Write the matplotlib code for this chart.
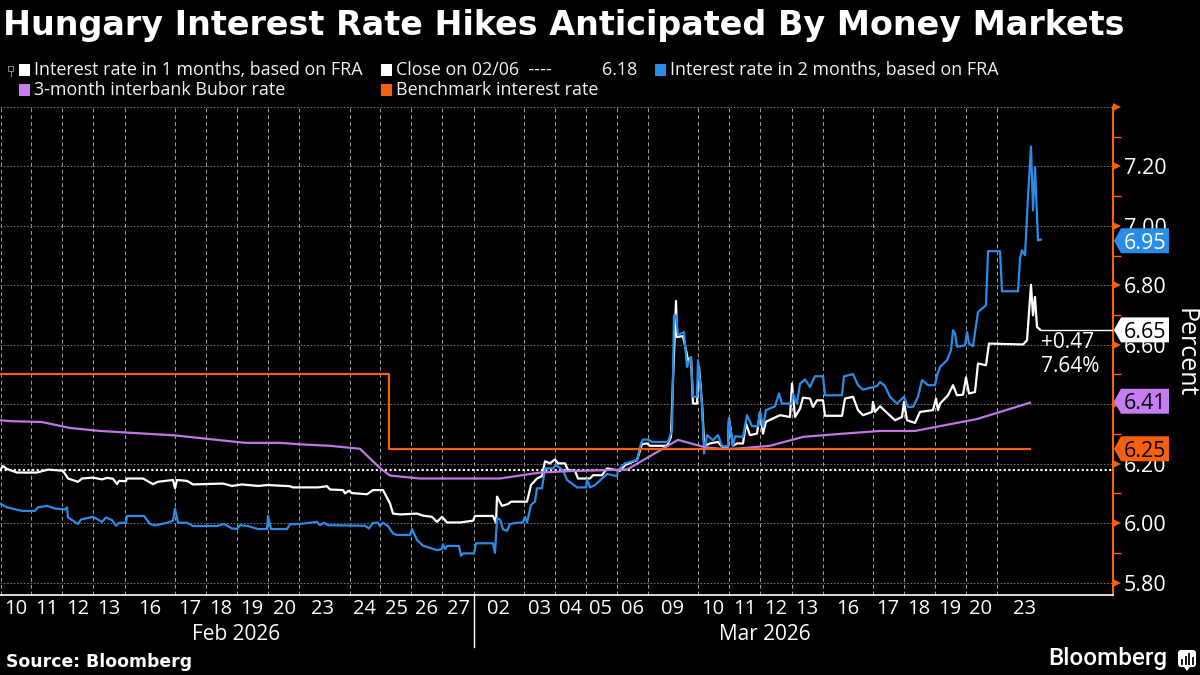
"""Hungary FRA / Bubor chart, Bloomberg dark style."""
import matplotlib

matplotlib.use("Agg")
import matplotlib.pyplot as plt
from matplotlib.patches import FancyBboxPatch, Polygon, Rectangle

# x values are positions along the session axis (weekends squeezed), 0..1113 wide
day_edges = [1, 31, 62, 93, 125, 175, 206, 237, 268, 299, 350, 380, 411, 442, 474, 524, 555,
             586, 617, 648, 698, 729, 760, 792, 823, 873, 904, 935, 966, 997]
day_labels = ["10", "11", "12", "13", "16", "17", "18", "19", "20", "23", "24", "25", "26", "27",
              "02", "03", "04", "05", "06", "09", "10", "11", "12", "13", "16", "17", "18", "19",
              "20", "23"]
day_label_pos = [16, 47, 78, 109, 150, 190, 221, 252, 284, 323, 365, 396, 427, 458, 499, 540, 570,
                 601, 632, 673, 713, 745, 776, 807, 848, 888, 919, 950, 981, 1025]

fra1m_x = [0, 3, 7, 17, 37, 48, 63, 68, 78, 82, 93, 102, 107, 113, 117, 119, 126, 127, 143, 153,
           158, 173, 175, 177, 187, 193, 223, 232, 242, 258, 268, 290, 293,
           300, 318, 327, 330, 343, 345, 349, 352, 367, 373, 383, 390, 393, 400, 417, 423, 432,
           437, 442, 447, 460, 473, 475, 493, 496, 497, 502, 508, 511, 527, 531, 537, 542, 545,
           550, 555, 558, 565, 568, 575, 578, 590, 593, 602, 607, 620,
           625, 637, 642, 647, 650, 667, 671, 673, 676, 677, 683, 686, 688, 691, 693, 697, 699,
           702, 704, 706, 710, 718, 722, 728, 729, 733, 737, 743, 746, 750, 757, 760, 763, 766,
           773, 780, 790, 792, 795, 800, 803, 810, 813, 817, 823, 825, 842, 845, 853, 858, 863,
           872, 873, 875,
           880, 887, 895, 902, 904, 907, 915, 920, 933, 936, 938, 940, 948, 953, 957, 963, 966,
           969, 975, 978, 986, 989, 1023, 1027, 1031, 1033, 1035, 1037, 1040]
fra1m = [6.178, 6.192, 6.182, 6.170, 6.170, 6.180, 6.176, 6.150, 6.139, 6.150, 6.153, 6.147, 6.152,
         6.149, 6.131, 6.142, 6.141, 6.150, 6.150, 6.131, 6.139, 6.145, 6.117, 6.145, 6.142, 6.130,
         6.133, 6.125, 6.130, 6.125, 6.128, 6.124, 6.120,
         6.120, 6.120, 6.124, 6.113, 6.111, 6.100, 6.109, 6.101, 6.097, 6.111, 6.111, 6.066, 6.032,
         6.029, 6.032, 6.025, 6.021, 6.004, 6.021, 6.002, 6.002, 6.008, 6.024, 6.024, 6.001, 6.089,
         6.058, 6.064, 6.072, 6.072, 6.128, 6.150, 6.158, 6.208, 6.201, 6.214, 6.201, 6.201, 6.178,
         6.176, 6.150, 6.150, 6.161, 6.161, 6.184, 6.176,
         6.195, 6.212, 6.266, 6.268, 6.260, 6.260, 6.290, 6.481, 6.747, 6.626, 6.629, 6.582, 6.548,
         6.557, 6.402, 6.402, 6.525, 6.402, 6.279, 6.262, 6.268, 6.273, 6.257, 6.257, 6.352, 6.260,
         6.268, 6.268, 6.335, 6.296, 6.301, 6.374, 6.301, 6.341, 6.352, 6.363, 6.357, 6.469, 6.357,
         6.385, 6.422, 6.419, 6.391, 6.413, 6.413, 6.361, 6.361, 6.419, 6.425, 6.380, 6.363, 6.374,
         6.408, 6.374,
         6.393, 6.371, 6.346, 6.357, 6.408, 6.346, 6.337, 6.374, 6.380, 6.419, 6.380, 6.402, 6.430,
         6.464, 6.430, 6.432, 6.490, 6.436, 6.441, 6.537, 6.531, 6.604, 6.601, 6.615, 6.802, 6.699,
         6.761, 6.660, 6.651]

fra2m_x = [0, 7, 22, 35, 38, 47, 55, 65, 67, 68, 78, 81, 93, 102, 106, 112, 116, 119, 126, 127,
           144, 150, 155, 167, 173, 175, 178, 187, 193, 217, 224, 232, 237, 240, 248, 258, 267,
           268, 271, 287, 290, 300,
           317, 320, 324, 328, 365, 369, 373, 378, 380, 383, 388, 393, 397, 410, 412, 417, 423,
           437, 442, 443, 445, 447, 459, 461, 463, 474, 476, 493, 495, 497, 500, 503, 507, 510,
           517, 523, 525, 527, 531, 535, 537, 542, 545, 553, 556, 563, 567, 577, 586, 587, 590,
           595, 602, 607, 617,
           618, 625, 637, 641, 643, 648, 652, 668, 672, 674, 676, 678, 684, 687, 691, 693, 697,
           698, 702, 704, 707, 713, 718, 722, 728, 729, 733, 735, 743, 747, 752, 758, 760, 763,
           766, 775, 779, 782, 792, 793, 797, 800, 805, 810, 815, 823, 825, 842, 844, 853, 858,
           863, 877,
           880, 885, 890, 897, 904, 908, 913, 918, 922, 928, 935, 937, 940, 947, 951, 953, 955,
           957, 965, 967, 969, 973, 978, 986, 988, 1000, 1002, 1018, 1020, 1022, 1025, 1028, 1031,
           1033, 1035, 1038, 1041]
fra2m = [6.066, 6.053, 6.041, 6.041, 6.053, 6.058, 6.049, 6.046, 6.053, 6.019, 5.997, 6.012, 6.021,
         6.004, 6.019, 6.010, 5.991, 6.001, 6.001, 6.024, 6.024, 5.997, 5.992, 6.001, 6.008, 6.049,
         6.001, 6.001, 5.990, 5.990, 5.997, 5.982, 5.980, 5.993, 5.990, 5.980, 5.980, 6.024, 5.980,
         5.980, 5.996, 5.997,
         6.004, 5.993, 6.001, 5.993, 5.991, 5.982, 6.001, 6.001, 5.990, 6.001, 5.990, 5.965, 5.960,
         5.960, 5.980, 5.943, 5.924, 5.909, 5.913, 5.929, 5.913, 5.923, 5.923, 5.890, 5.898, 5.898,
         5.932, 5.932, 5.900, 6.016, 6.012, 5.979, 5.974, 5.997, 6.001, 6.002, 6.021, 6.002, 6.061,
         6.072, 6.117, 6.117, 6.184, 6.184, 6.195, 6.178, 6.145, 6.120, 6.120, 6.147, 6.120, 6.128,
         6.150, 6.165, 6.158,
         6.178, 6.201, 6.212, 6.268, 6.281, 6.281, 6.273, 6.273, 6.313, 6.699, 6.699, 6.632, 6.643,
         6.525, 6.559, 6.425, 6.425, 6.548, 6.402, 6.234, 6.296, 6.279, 6.296, 6.259, 6.259, 6.352,
         6.259, 6.292, 6.290, 6.363, 6.326, 6.326, 6.374, 6.324, 6.380, 6.393, 6.436, 6.402, 6.402,
         6.436, 6.402, 6.469, 6.483, 6.458, 6.494, 6.494, 6.430, 6.430, 6.494, 6.501, 6.464, 6.449,
         6.461,
         6.475, 6.461, 6.425, 6.402, 6.425, 6.391, 6.391, 6.425, 6.481, 6.464, 6.464, 6.497, 6.525,
         6.548, 6.582, 6.649, 6.638, 6.593, 6.598, 6.643, 6.604, 6.595, 6.710, 6.733, 6.915, 6.915,
         6.780, 6.780, 6.890, 6.918, 6.901, 7.097, 7.267, 7.052, 7.198, 6.951, 6.954]

bubor_x = [0, 10, 42, 70, 100, 150, 175, 245, 280, 300, 330, 360, 380, 390, 420, 500, 540, 570,
           627, 678, 705, 720, 735, 770, 803, 840, 880, 915, 977, 1030]
bubor = [6.346, 6.343, 6.340, 6.320, 6.310, 6.300, 6.295, 6.270, 6.270, 6.265, 6.260, 6.250, 6.185,
         6.160, 6.150, 6.150, 6.170, 6.175, 6.180, 6.280, 6.255, 6.250, 6.250, 6.260, 6.290, 6.300,
         6.310, 6.310, 6.350, 6.405]

bench_x = [0, 389, 389, 1030]
bench = [6.50, 6.50, 6.25, 6.25]

close_level = 6.18
last_fra1m = 6.65
change_lines = ["+0.47", "7.64%"]
y_majors = [5.8, 6.0, 6.2, 6.4, 6.6, 6.8, 7.0, 7.2, 7.4]
y_minors = [5.9, 6.1, 6.3, 6.5, 6.7, 6.9, 7.1, 7.3]
y_labels = ["5.80", "6.00", "6.20", "6.40", "6.60", "6.80", "7.00", "7.20", ""]

WHITE = "#ffffff"
BLUE = "#2a8ce6"
PURPLE = "#c67cf2"
ORANGE = "#f6600f"
TEXT_FONT = ["Open Sans", "DejaVu Sans"]

fig = plt.figure(figsize=(12, 6.75), dpi=100, facecolor="black")
ax = fig.add_axes([0, 1 - 595 / 675, 1113 / 1200, 488 / 675], facecolor="black")
ax.set_xlim(0, 1113)
ax.set_ylim(5.758, 7.4)

ax.plot(fra1m_x, fra1m, color=WHITE, lw=1.6, zorder=3)
ax.hlines(last_fra1m, fra1m_x[-1], 1113, color=WHITE, lw=1.0, zorder=3)
ax.hlines(close_level, 0, 1113, color=WHITE, lw=1.5, ls=(0, (1, 1.2)), zorder=3)
ax.plot(fra2m_x, fra2m, color=BLUE, lw=1.6, zorder=3)
ax.plot(bubor_x, bubor, color="#bd78e2", lw=1.6, zorder=3)
ax.plot(bench_x, bench, color=ORANGE, lw=1.6, zorder=3)

# axes furniture
for side in ("top", "left"):
    ax.spines[side].set_visible(False)
ax.spines["bottom"].set_color(WHITE)
ax.spines["bottom"].set_linewidth(1.2)
ax.spines["right"].set_color(ORANGE)
ax.spines["right"].set_linewidth(1.5)

ax.set_xticks(day_edges)
ax.set_xticks(day_label_pos, minor=True)
ax.set_xticklabels(day_labels, minor=True, family=TEXT_FONT, fontsize=14.5, color=WHITE)
ax.tick_params(axis="x", which="major", length=0, labelbottom=False)
ax.tick_params(axis="x", which="minor", length=0, pad=3)
ax.xaxis.grid(True, which="major", color="#a0a0a0", lw=0.7, ls=(0, (4, 3)), zorder=1)
ax.yaxis.grid(True, which="major", color="#858585", lw=0.6, ls=(0, (2, 2)), zorder=1)

ax.yaxis.tick_right()
ax.set_yticks(y_majors, y_labels, family=TEXT_FONT, fontsize=15.5, color=WHITE)
ax.set_yticks(y_minors, minor=True)
ax.tick_params(axis="y", which="major", length=0, pad=8)
ax.tick_params(axis="y", which="minor", length=6, width=1, color=ORANGE)
for tick in ax.yaxis.get_major_ticks():
    tick.tick2line.set_marker(">")
    tick.tick2line.set_markersize(6)
    tick.tick2line.set_markerfacecolor(ORANGE)
    tick.tick2line.set_markeredgecolor(ORANGE)
    tick.tick2line.set_markeredgewidth(0)
    tick.tick2line.set_transform(ax.get_yaxis_transform())
    tick.tick2line.set_data([1.004], [tick.get_loc()])

# last-value tags down the right edge
half = 12.5 / 297.5
for value, face, ink in ((6.95, BLUE, WHITE), (6.65, WHITE, "black"),
                         (6.41, PURPLE, "black"), (6.25, ORANGE, "black")):
    ax.add_patch(Polygon([(1114, value), (1121, value + half), (1169, value + half),
                          (1169, value - half), (1121, value - half)],
                         facecolor=face, edgecolor="none", clip_on=False, zorder=6))
    ax.text(1145, value, f"{value:.2f}", color=ink, ha="center", va="center_baseline",
            family=TEXT_FONT, fontsize=15.5, clip_on=False, zorder=7)

# header, footer and legend sit on a pixel-scaled overlay
ov = fig.add_axes([0, 0, 1, 1], facecolor="none")
ov.set_xlim(0, 1200)
ov.set_ylim(675, 0)
ov.axis("off")

ov.text(3, 25, "Hungary Interest Rate Hikes Anticipated By Money Markets", family="DejaVu Sans",
        weight="bold", fontsize=24, color=WHITE, ha="left", va="center")


def legend_item(x, y, color, label):
    ov.add_patch(Rectangle((x, y - 6), 11, 12, facecolor=color, edgecolor="none"))
    ov.text(x + 15, y, label, family=TEXT_FONT, fontsize=12.9, color="#f2f2f2", ha="left",
            va="center")


legend_item(19, 70, WHITE, "Interest rate in 1 months, based on FRA")
legend_item(381, 70, WHITE, "Close on 02/06  ----")
ov.text(602, 70, "6.18", family=TEXT_FONT, fontsize=12.9, color="#f2f2f2", ha="left", va="center")
legend_item(655, 70, BLUE, "Interest rate in 2 months, based on FRA")
legend_item(19, 90, PURPLE, "3-month interbank Bubor rate")
legend_item(381, 90, ORANGE, "Benchmark interest rate")
ov.add_patch(Rectangle((8, 66), 5, 5, facecolor="none", edgecolor="#8a8a8a", lw=0.7))
ov.plot([10.5, 10.5], [71, 76], color="#8a8a8a", lw=0.7)

for i, line in enumerate(change_lines):
    ov.text(1041, 342 + 25 * i, line, family=TEXT_FONT, fontsize=15, color=WHITE, ha="left",
            va="center")
ov.text(1185, 353, "Percent", family=TEXT_FONT, fontsize=18, color=WHITE, rotation=-90,
        ha="center", va="center")

ov.plot([474, 474], [595, 647], color=WHITE, lw=1)
ov.text(236, 635, "Feb 2026", family=TEXT_FONT, fontsize=15, color=WHITE, ha="center", va="center")
ov.text(765, 635, "Mar 2026", family=TEXT_FONT, fontsize=15, color=WHITE, ha="center", va="center")

ov.text(6, 662, "Source: Bloomberg", family="DejaVu Sans", weight="bold", fontsize=12.4,
        color=WHITE, ha="left", va="center")
ov.text(1048, 659, "Bloomberg", family="Roboto", weight="medium", fontsize=17.5, color=WHITE,
        ha="left", va="center")

# logo: rounded speech box with bars
ov.add_patch(FancyBboxPatch((1178, 650), 18, 17, boxstyle="round,pad=0,rounding_size=3",
                            facecolor=WHITE, edgecolor="none"))
ov.add_patch(Polygon([(1184, 667), (1190, 667), (1187, 671)], facecolor=WHITE, edgecolor="none"))
for bar_x, bar_top in ((1182, 660), (1185.5, 657), (1189, 654), (1192.5, 658)):
    ov.plot([bar_x, bar_x], [bar_top, 664], color="black", lw=1.3)

fig.savefig("out.png", dpi=100, facecolor="black")
